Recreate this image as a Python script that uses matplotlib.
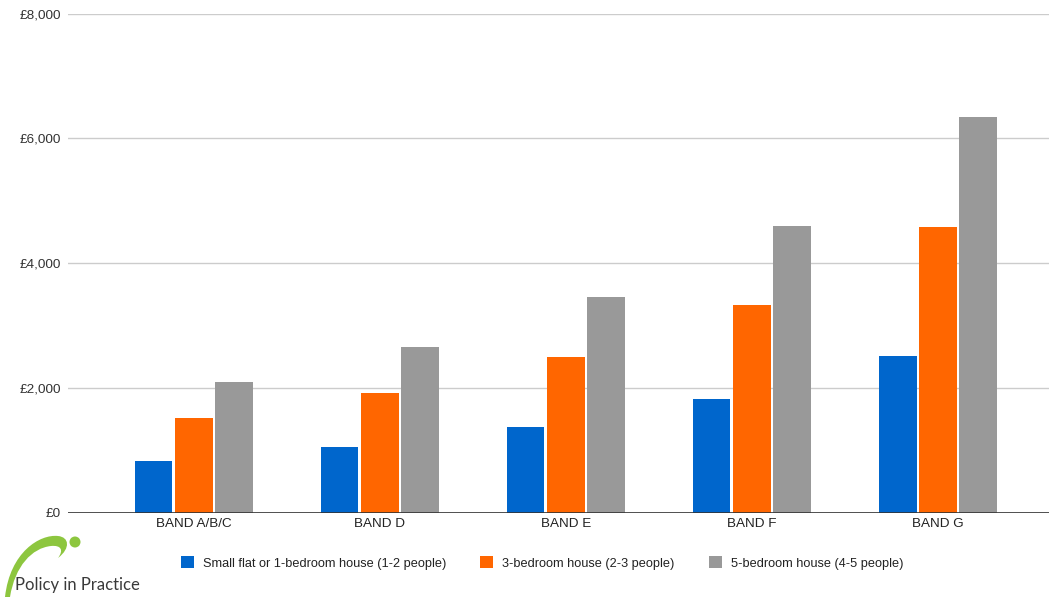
import numpy as np
import matplotlib.pyplot as plt
from matplotlib.path import Path
from matplotlib.patches import PathPatch, Circle
from matplotlib.ticker import FuncFormatter

plt.rcParams['font.family'] = ['Liberation Sans', 'DejaVu Sans']

bands = ['BAND A/B/C', 'BAND D', 'BAND E', 'BAND F', 'BAND G']
series_names = ['Small flat or 1-bedroom house (1-2 people)',
                '3-bedroom house (2-3 people)',
                '5-bedroom house (4-5 people)']
small_flat = [828, 1053, 1378, 1822, 2516]
three_bed = [1523, 1913, 2500, 3323, 4583]
five_bed = [2090, 2655, 3452, 4590, 6337]
colors = ['#0066cc', '#ff6600', '#999999']

fig = plt.figure(figsize=(10.49, 5.97), dpi=100)
ax = fig.add_axes([68 / 1049, 84.3 / 597, 981 / 1049, 499.2 / 597])

x = np.arange(len(bands))
width = 0.202
step = 0.216
for i, (vals, name, c) in enumerate(zip([small_flat, three_bed, five_bed], series_names, colors)):
    ax.bar(x + (i - 1) * step, vals, width, color=c, label=name, zorder=3)

ax.set_xlim(-0.676, 4.597)
ax.set_ylim(0, 8000)
ax.set_yticks([0, 2000, 4000, 6000, 8000])
ax.yaxis.set_major_formatter(FuncFormatter(lambda v, p: '£{:,.0f}'.format(v)))
ax.set_xticks(x)
ax.set_xticklabels(bands)
ax.grid(axis='y', color='#cccccc', linewidth=1, zorder=0)
ax.axhline(0, color='#333333', linewidth=1.2, zorder=4)
for s in ax.spines.values():
    s.set_visible(False)
ax.tick_params(axis='y', length=0, pad=5, labelsize=9.7, labelcolor='#333333')
ax.tick_params(axis='x', length=0, pad=4, labelsize=9.7, labelcolor='#222222')

fig.legend(loc='center', bbox_to_anchor=(542 / 1049, 1 - 563 / 597), ncol=3,
           frameon=False, fontsize=9.2, handlelength=1.0, handleheight=1.0,
           handletextpad=0.7, columnspacing=2.7, labelcolor='#222222')

# logo
lax = fig.add_axes([0, 0, 150 / 1049, 77 / 597])
lax.set_xlim(0, 150)
lax.set_ylim(77, 0)
lax.axis('off')
verts = [(5, 77), (10, 32), (40, 14), (58, 16),
         (69, 17), (71, 28), (58, 38),
         (64, 30), (61, 25), (51, 26),
         (32, 28), (15, 46), (10, 77), (5, 77)]
codes = [Path.MOVETO, Path.CURVE4, Path.CURVE4, Path.CURVE4,
         Path.CURVE4, Path.CURVE4, Path.CURVE4,
         Path.CURVE4, Path.CURVE4, Path.CURVE4,
         Path.CURVE4, Path.CURVE4, Path.CURVE4, Path.CLOSEPOLY]
lax.add_patch(PathPatch(Path(verts, codes), facecolor='#8dc63f', edgecolor='none'))
lax.add_patch(Circle((75, 22), 5.5, facecolor='#8dc63f', edgecolor='none'))
lax.text(15, 70, 'Policy in Practice', fontsize=12, family=['Lato', 'DejaVu Sans'],
         color='#3a3a3a', va='baseline', ha='left')

fig.savefig('out.png', dpi=100, facecolor='white')
